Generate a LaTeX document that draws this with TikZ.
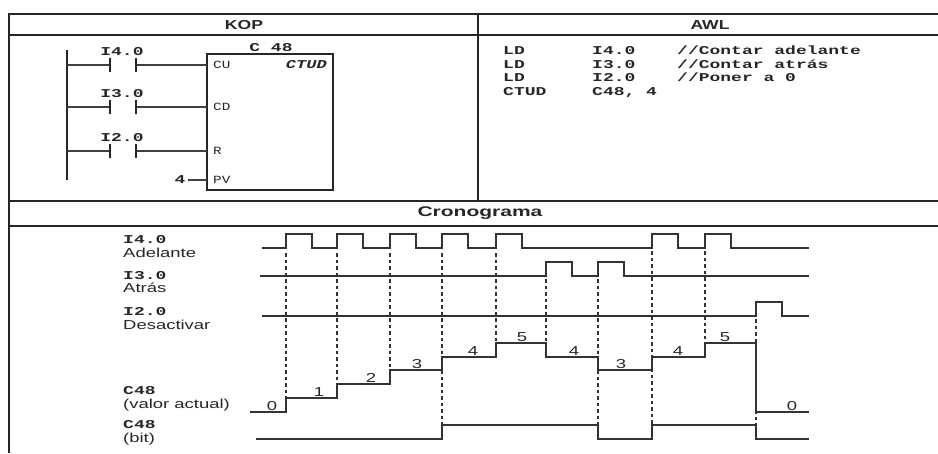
\documentclass[tikz,border=0pt]{standalone}
\usepackage{fontspec}
\setmainfont{Liberation Sans}
\newfontfamily\lsans{Liberation Sans}[FakeStretch=1.42]
\newfontfamily\lhead{Liberation Sans}[FakeStretch=1.5]
\newfontfamily\lkop{Liberation Sans}[FakeStretch=1.35]
\newfontfamily\lmono{Liberation Mono}[FakeStretch=1.5]
\newfontfamily\lmonos{Liberation Mono}[FakeStretch=1.3]
\newfontfamily\lmonoi{Liberation Mono}[FakeStretch=1.42]
\tikzset{
  frame/.style={line width=1.5pt, black!85},
  sig/.style={line width=1.2pt, black!80, line join=miter},
  dsh/.style={line width=1.3pt, dash pattern=on 3.5pt off 3pt, black!80},
  hdr/.style={font=\lkop\bfseries\fontsize{13}{13}\selectfont, inner sep=0pt, text=black!85},
  chdr/.style={font=\lhead\bfseries\fontsize{14}{14}\selectfont, inner sep=0pt, text=black!85},
  mlab/.style={font=\lmono\bfseries\fontsize{12}{12}\selectfont, inner sep=0pt, anchor=base west, text=black!85},
  mcen/.style={font=\lmono\bfseries\fontsize{12}{12}\selectfont, inner sep=0pt, text=black!85},
  slab/.style={font=\lsans\fontsize{13}{13}\selectfont, inner sep=0pt, anchor=base west, text=black!85},
  val/.style={font=\lsans\fontsize{13}{13}\selectfont, inner sep=0pt, anchor=base, text=black!85},
  pinlab/.style={font=\lmonos\fontsize{11}{11}\selectfont, inner sep=0pt, anchor=west, text=black!85},
  wire/.style={line width=1.2pt, black!75},
  cbar/.style={line width=1.3pt, black!85}
}
\begin{document}
\begin{tikzpicture}[x=1pt,y=-1pt]
\useasboundingbox (0,0) rectangle (938,453);
% frame
\draw[frame] (938,14) -- (9,14) -- (9,453);
\draw[frame] (9,35) -- (938,35);
\draw[frame] (9,201) -- (938,201);
\draw[frame] (9,226) -- (938,226);
\draw[frame] (478,14) -- (478,201);
% headers
\node[hdr] (kop) at (244,25) {KOP};
\node[hdr] (awl) at (710,25) {AWL};
\node[chdr] (crono) at (480,213) {Cronograma};
% ladder
\coordinate (railtop) at (67,50);
\coordinate (railbot) at (67,180);
\draw[cbar] (railtop) -- (railbot);
\node[draw, line width=1.3pt, black!85, minimum width=126pt, minimum height=136pt, inner sep=0pt] (ctud) at (270,122) {};
\node[mcen] (cname) at (271,48) {C 48};
\node[pinlab] (cu) at (213,65) {CU};
\node[pinlab] (cd) at (213,107) {CD};
\node[pinlab] (r) at (213,151) {R};
\node[pinlab] (pv) at (213,180) {PV};
\node[font=\lmonoi\bfseries\itshape\fontsize{12}{12}\selectfont, inner sep=0pt, anchor=east, text=black!85] (ctudlab) at (327,65) {CTUD};
\foreach \yy/\lab/\nm in {65/I4.0/a,107/I3.0/b,151/I2.0/c}{
  \coordinate (\nm L) at (110,\yy);
  \coordinate (\nm R) at (136,\yy);
  \coordinate (\nm rail) at (67,\yy);
  \coordinate (\nm in) at (207,\yy);
  \draw[wire] (\nm rail) -- (\nm L);
  \draw[wire] (\nm R) -- (\nm in);
  \draw[cbar] (110,\yy-7) -- (110,\yy+7);
  \draw[cbar] (136,\yy-7) -- (136,\yy+7);
  \node[mcen] (con\nm) at (122,\yy-13) {\lab};
}
\node[mcen] (four) at (180,180) {4};
\coordinate (pvin) at (207,180);
\draw[wire] (188,180) -- (pvin);
% AWL
\foreach \yy/\ia/\ib/\ic [count=\i] in {54/LD/I4.0/{//Contar adelante},68/LD/I3.0/{//Contar atrás},81/LD/I2.0/{//Poner a 0},95/CTUD/{C48, 4}/{}}{
  \node[mlab] (awla\i) at (503,\yy) {\ia};
  \node[mlab] (awlb\i) at (592,\yy) {\ib};
  \node[mlab] (awlc\i) at (677,\yy) {\ic};
}
% chrono labels
\node[mlab] (l1a) at (123,243) {I4.0};
\node[slab] (l1b) at (123,257) {Adelante};
\node[mlab] (l2a) at (123,279) {I3.0};
\node[slab] (l2b) at (123,292) {Atrás};
\node[mlab] (l3a) at (123,315) {I2.0};
\node[slab] (l3b) at (123,329) {Desactivar};
\node[mlab] (l4a) at (123,394) {C48};
\node[slab] (l4b) at (123,408) {(valor actual)};
\node[mlab] (l5a) at (123,428) {C48};
\node[slab] (l5b) at (123,442) {(bit)};
% dashed markers
\foreach \xx/\ya/\yb in {286/253/398,337/253/384,390/253/370,442/253/425,496/253/343,546/279/343,598/279/425,652/251/425,705/251/343,756/319/425}{
  \draw[dsh] (\xx,\ya) -- (\xx,\yb);
}
% signals
\draw[sig] (262,248) foreach \r in {286,337,390,442,496,652,705} { -- (\r,248) -- (\r,234) -- (\r+26,234) -- (\r+26,248) } -- (809,248);
\draw[sig] (260,276) foreach \r in {546,598} { -- (\r,276) -- (\r,262) -- (\r+26,262) -- (\r+26,276) } -- (809,276);
\draw[sig] (262,316) -- (756,316) -- (756,302) -- (782,302) -- (782,316) -- (809,316);
\draw[sig] (250,412) -- (286,412) -- (286,398) -- (337,398) -- (337,384) -- (390,384) -- (390,370) -- (442,370) -- (442,357) -- (496,357) -- (496,343) -- (546,343) -- (546,357) -- (598,357) -- (598,370) -- (652,370) -- (652,357) -- (705,357) -- (705,343) -- (756,343) -- (756,412) -- (809,412);
\draw[sig] (256,439) -- (442,439) -- (442,425) -- (598,425) -- (598,439) -- (652,439) -- (652,425) -- (756,425) -- (756,439) -- (809,439);
% value labels
\foreach \xx/\lev/\v [count=\i] in {272/412/0,319/398/1,371/384/2,417/370/3,473/357/4,522/343/5,574/357/4,621/370/3,678/357/4,725/343/5,792/412/0}{
  \node[val] (v\i) at (\xx,\lev-1.5) {\v};
}
\end{tikzpicture}
\end{document}
